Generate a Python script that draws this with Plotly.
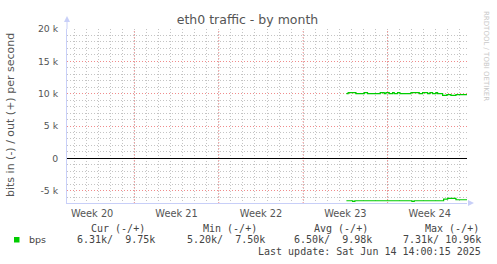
import plotly.graph_objects as go

# ---------------- data ----------------
out_times = ["2025-06-04 14:00", "2025-06-04 17:30", "2025-06-05 09:00", "2025-06-06 01:30",
             "2025-06-06 08:00", "2025-06-07 09:20", "2025-06-07 17:20", "2025-06-07 20:40",
             "2025-06-08 03:15", "2025-06-08 10:00", "2025-06-08 13:10", "2025-06-08 19:50",
             "2025-06-09 00:30", "2025-06-09 22:30", "2025-06-10 15:00", "2025-06-10 21:40",
             "2025-06-11 07:40", "2025-06-11 12:15", "2025-06-11 17:30", "2025-06-12 00:10",
             "2025-06-12 03:30", "2025-06-12 13:30", "2025-06-12 22:00", "2025-06-13 06:00",
             "2025-06-13 16:00", "2025-06-14 14:00"]
out_bps = [10000, 10150, 10000, 10150, 10000, 10150, 10000, 10150, 10000, 10150, 10000, 10150,
           10000, 10150, 10000, 10150, 10000, 10150, 10000, 10150, 10000, 9750, 9850, 9750,
           9850, 9850]

in_times = ["2025-06-04 14:00", "2025-06-05 02:20", "2025-06-05 06:50", "2025-06-10 00:20",
            "2025-06-10 05:00", "2025-06-12 15:30", "2025-06-12 23:30", "2025-06-13 16:00",
            "2025-06-14 14:00"]
in_bps = [6550, 6650, 6550, 6650, 6550, 6300, 6200, 6400, 6400]

week_starts = ["2025-05-18", "2025-05-25", "2025-06-01", "2025-06-08"]
week_mids = ["2025-05-14 12:00", "2025-05-21 12:00", "2025-05-28 12:00", "2025-06-04 12:00", "2025-06-11 12:00"]
week_labels = ["Week 20", "Week 21", "Week 22", "Week 23", "Week 24"]

y_ticks = [-5000, 0, 5000, 10000, 15000, 20000]
y_labels = ["-5 k", "0", "5 k", "10 k", "15 k", "20 k"]

x_range = ["2025-05-12 10:00", "2025-06-14 14:00"]
y_range = [-6900, 20000]

legend_cols = ["Cur (-/+)", "Min (-/+)", "Avg (-/+)", "Max (-/+)"]
legend_vals = ["6.31k/  9.75k", "5.20k/  7.50k", "6.50k/  9.98k", "7.31k/ 10.96k"]
series_name = "bps"
last_update = "Last update: Sat Jun 14 14:00:15 2025"

# ---------------- layout constants ----------------
W, H = 497, 264
L, R, T, B = 67, 30, 29, 61
PW, PH = W - L - R, H - T - B
GREEN = "#00CC00"
AXIS = "#C8CFF8"
TXT = "#555555"
MAJ = "#F08C8C"
MIN = "#C4C4C4"
SANS = "DejaVu Sans"
MONO = "DejaVu Sans Mono"


def px(x):
    return (x - L) / PW


def py(y):
    return (H - B - y) / PH


fig = go.Figure()
fig.add_trace(go.Scatter(x=out_times, y=out_bps, mode="lines", line=dict(color=GREEN, width=1.2, shape="hv"),
                         showlegend=False, hoverinfo="skip"))
fig.add_trace(go.Scatter(x=in_times, y=[-v for v in in_bps], mode="lines",
                         line=dict(color=GREEN, width=1.2, shape="hv"), showlegend=False, hoverinfo="skip"))

shapes = []
for ws in week_starts:
    shapes.append(dict(type="line", xref="x", yref="paper", x0=ws, x1=ws, y0=0, y1=1, layer="between",
                       line=dict(color=MAJ, width=1, dash="1px,2px")))
# axis arrows
shapes.append(dict(type="line", xref="paper", yref="paper", xsizemode="pixel", ysizemode="pixel",
                   xanchor=0, yanchor=1, x0=0, x1=0, y0=0, y1=7, line=dict(color=AXIS, width=1)))
shapes.append(dict(type="path", xref="paper", yref="paper", xsizemode="pixel", ysizemode="pixel",
                   xanchor=0, yanchor=1, path="M -3,7 L 3,7 L 0,13 Z", fillcolor=AXIS, line=dict(width=0)))
shapes.append(dict(type="path", xref="paper", yref="paper", xsizemode="pixel", ysizemode="pixel",
                   xanchor=1, yanchor=0, path="M 1,-3 L 1,3 L 7,0 Z", fillcolor=AXIS, line=dict(width=0)))
# legend swatch
shapes.append(dict(type="rect", xref="paper", yref="paper", x0=px(14), x1=px(19.5), y0=py(242.5), y1=py(237),
                   fillcolor=GREEN, line=dict(width=0)))

ann = []
ann.append(dict(text="bits in (-) / out (+) per second", xref="paper", yref="paper", x=px(11), y=py(115),
                textangle=-90, showarrow=False, xanchor="center", yanchor="middle",
                font=dict(family=SANS, size=11, color=TXT)))
ann.append(dict(text="RRDTOOL / TOBI OETIKER", xref="paper", yref="paper", x=px(486), y=py(56),
                textangle=90, showarrow=False, xanchor="center", yanchor="middle",
                font=dict(family=SANS, size=7, color="#C8C8C8")))
head_left = [89, 200.7, 312, 422.7]
val_right = [156.7, 267.3, 374, 482.7]
for i in range(4):
    ann.append(dict(text=legend_cols[i], xref="paper", yref="paper", x=px(head_left[i]), y=py(228),
                    showarrow=False, xanchor="left", yanchor="middle",
                    font=dict(family=MONO, size=10, color="#444444")))
    ann.append(dict(text=legend_vals[i], xref="paper", yref="paper", x=px(val_right[i]), y=py(239.5),
                    showarrow=False, xanchor="right", yanchor="middle",
                    font=dict(family=MONO, size=10, color="#444444")))
ann.append(dict(text=series_name, xref="paper", yref="paper", x=px(26.5), y=py(239.5), showarrow=False,
                xanchor="left", yanchor="middle", font=dict(family=SANS, size=9.5, color="#444444")))
ann.append(dict(text=last_update, xref="paper", yref="paper", x=px(482.7), y=py(251), showarrow=False,
                xanchor="right", yanchor="middle", font=dict(family=MONO, size=10, color="#444444")))

fig.update_layout(
    width=W, height=H, margin=dict(l=L, r=R, t=T, b=B, pad=0),
    paper_bgcolor="white", plot_bgcolor="white",
    title=dict(text="eth0 traffic - by month", x=247.5 / W, xref="container", xanchor="center",
               y=1 - 19.5 / H, yref="container", yanchor="middle",
               font=dict(family=SANS, size=12.5, color=TXT)),
    shapes=shapes, annotations=ann, showlegend=False,
    xaxis=dict(type="date", range=x_range, tickvals=week_mids, ticktext=week_labels, ticks="",
               showgrid=False, zeroline=False, showline=True, linecolor=AXIS, linewidth=1,
               tickfont=dict(family=SANS, size=9.8, color=TXT), ticklabelstandoff=1,
               minor=dict(dtick=86400000, tick0="2025-05-11", showgrid=True, gridcolor=MIN,
                          griddash="1px,2px", gridwidth=1, ticks="")),
    yaxis=dict(range=y_range, tickvals=y_ticks, ticktext=y_labels, ticks="",
               showgrid=True, gridcolor=MAJ, griddash="1px,2px", gridwidth=1,
               zeroline=True, zerolinecolor="black", zerolinewidth=1,
               showline=True, linecolor=AXIS, linewidth=1,
               tickfont=dict(family=SANS, size=9.3, color=TXT), ticklabelstandoff=6,
               minor=dict(dtick=1000, tick0=0, showgrid=True, gridcolor=MIN,
                          griddash="1px,2px", gridwidth=1, ticks="")),
)

fig.write_html("out.html")
